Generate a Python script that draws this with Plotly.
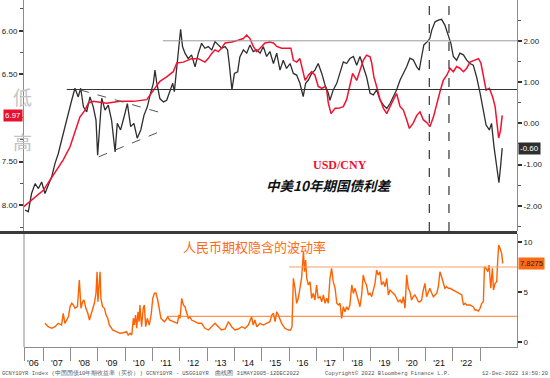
import plotly.graph_objects as go

# ---------------- data ----------------
# China-US 10Y yield spread (right axis, %)
spread_t = [2005.33, 2005.45, 2005.57, 2005.70, 2005.82, 2005.94,
            2006.06, 2006.18, 2006.31, 2006.43, 2006.55, 2006.67, 2006.79, 2006.92,
            2007.04, 2007.16, 2007.28, 2007.37, 2007.47, 2007.59, 2007.71, 2007.83, 2007.93, 2007.99,
            2008.05, 2008.14, 2008.26, 2008.38, 2008.50, 2008.63, 2008.71, 2008.83, 2008.96,
            2009.08, 2009.20, 2009.32, 2009.44, 2009.57, 2009.69, 2009.81, 2009.93,
            2010.03, 2010.09, 2010.15, 2010.27, 2010.40, 2010.52, 2010.64, 2010.74, 2010.80, 2010.89, 2010.95,
            2011.03, 2011.10,
            2011.19, 2011.31, 2011.43, 2011.56, 2011.68, 2011.80, 2011.92,
            2012.04, 2012.17, 2012.29, 2012.41, 2012.53, 2012.66, 2012.75, 2012.81, 2012.87, 2012.91,
            2013.00, 2013.12, 2013.20, 2013.33, 2013.45, 2013.57, 2013.69, 2013.82, 2013.94,
            2014.06, 2014.18, 2014.30, 2014.43, 2014.55, 2014.67, 2014.79, 2014.91,
            2015.04, 2015.16, 2015.28, 2015.40, 2015.52, 2015.61, 2015.71, 2015.83, 2015.95,
            2016.07, 2016.20, 2016.32, 2016.44, 2016.50, 2016.62, 2016.75, 2016.87, 2016.99,
            2017.11, 2017.23,
            2017.36, 2017.48, 2017.60, 2017.72, 2017.84, 2017.97,
            2018.09, 2018.21, 2018.33, 2018.46, 2018.58, 2018.70, 2018.82, 2018.94,
            2019.07, 2019.19, 2019.31, 2019.43, 2019.55, 2019.68, 2019.77, 2019.86, 2019.94,
            2020.07, 2020.16, 2020.23, 2020.35, 2020.47, 2020.59, 2020.71, 2020.84, 2020.93,
            2021.02, 2021.14, 2021.26, 2021.39, 2021.51, 2021.63, 2021.75, 2021.87,
            2022.00, 2022.12, 2022.22, 2022.34, 2022.42, 2022.51, 2022.61, 2022.69, 2022.75, 2022.81]
spread_v = [-2.10, -2.14, -1.70, -1.46, -1.58, -1.42,
            -1.70, -1.50, -1.29, -0.97, -0.73, -0.41, -0.08, 0.24,
            0.56, 0.85, 0.64, 0.85, 0.40, 0.28, 0.64, 0.40, 0.08, -0.77,
            -0.16, 0.61, 0.32, 0.44, 0.08, -0.69, 0.00, -0.16, 0.16,
            0.48, -0.08, 0.00, -0.36, -0.16, 0.20, 0.40, 0.73,
            0.97, 1.29, 1.01, 0.60, 0.52, 0.56, 0.77, 0.97, 0.77, 1.37, 1.86,
            2.28, 1.86,
            1.70, 1.57, 1.66, 1.37, 1.70, 1.94, 1.82,
            1.86, 1.78, 1.98, 1.90, 1.82, 1.86, 1.78, 1.45, 1.05, 0.81,
            1.21, 1.25, 1.61, 1.78, 1.70, 1.90, 1.74, 1.78, 1.70,
            1.86, 1.62, 1.74, 1.45, 1.70, 1.29, 1.53, 1.33,
            1.45, 1.21, 1.17, 0.97, 0.65, 0.97, 1.05, 1.21, 1.29,
            1.45, 1.21, 0.93, 0.73, 0.56, 0.81, 0.97, 1.21, 1.49,
            1.45, 1.57,
            1.62, 1.41, 1.62, 1.37, 1.13, 0.73,
            0.69, 0.81, 0.57, 0.44, 0.36, 0.48, 0.65, 0.81,
            1.05, 1.21, 1.37, 1.58, 1.54, 1.37, 1.29, 1.62, 1.90,
            1.98, 2.06, 2.26, 2.46, 2.50, 2.52, 2.38, 2.10, 1.94,
            1.62, 1.53, 1.70, 1.66, 1.53, 1.45, 1.41, 1.13,
            0.73, 0.32, -0.04, -0.16, 0.00, -0.57, -1.05, -1.44, -1.05, -0.60]

# USD/CNY (left axis, inverted)
usdcny_t = [2005.27, 2005.51, 2005.76, 2006.00, 2006.25, 2006.49, 2006.73, 2006.98,
            2007.22, 2007.34, 2007.53, 2007.65, 2007.83, 2008.32, 2008.81, 2009.30,
            2009.79, 2009.91, 2010.03, 2010.27, 2010.52, 2010.76, 2010.89, 2011.13,
            2011.43, 2011.68, 2011.92,
            2012.04, 2012.17, 2012.29, 2012.41, 2012.53, 2012.66, 2012.90,
            2013.14, 2013.33, 2013.45, 2013.57, 2013.69, 2013.82, 2013.94,
            2014.12, 2014.30, 2014.43, 2014.55, 2014.73, 2014.91,
            2015.07, 2015.16, 2015.28, 2015.40, 2015.46, 2015.59, 2015.71, 2015.83, 2015.95,
            2016.07, 2016.20, 2016.32, 2016.38, 2016.44, 2016.54, 2016.69, 2016.81, 2016.99,
            2017.11, 2017.23, 2017.33,
            2017.48, 2017.60, 2017.72, 2017.84, 2017.97,
            2018.03, 2018.11, 2018.21, 2018.33, 2018.46, 2018.58, 2018.70, 2018.82, 2018.94,
            2019.07, 2019.19, 2019.31, 2019.41, 2019.55, 2019.68, 2019.80, 2019.92,
            2020.07, 2020.16, 2020.29, 2020.41, 2020.53, 2020.65, 2020.78, 2020.90,
            2021.02, 2021.14, 2021.26, 2021.39, 2021.51, 2021.63, 2021.81, 2021.94,
            2022.03, 2022.12, 2022.22, 2022.34, 2022.46, 2022.55, 2022.61, 2022.68, 2022.75, 2022.81]
usdcny_v = [8.02, 7.96, 7.90, 7.83, 7.71, 7.60, 7.48, 7.33,
            7.10, 6.99, 6.91, 6.83, 6.81, 6.83, 6.81, 6.81,
            6.79, 6.74, 6.68, 6.58, 6.53, 6.47, 6.37, 6.36,
            6.32, 6.32, 6.36,
            6.32, 6.26, 6.22, 6.24, 6.20, 6.14, 6.13,
            6.11, 6.09, 6.05, 6.09, 6.18, 6.24, 6.20,
            6.14, 6.13, 6.14, 6.18, 6.20, 6.20,
            6.20, 6.34, 6.36, 6.32, 6.41, 6.57, 6.51, 6.47, 6.51,
            6.64, 6.66, 6.64, 6.68, 6.83, 6.95, 6.89, 6.89, 6.87,
            6.79, 6.64, 6.49,
            6.57, 6.45, 6.34, 6.28, 6.30,
            6.37, 6.53, 6.64, 6.78, 6.89, 6.95, 6.87, 6.80, 6.72,
            6.87, 6.91, 7.02, 7.12, 7.06, 6.97, 6.93, 7.02,
            7.06, 7.10, 6.99, 6.83, 6.70, 6.57, 6.51, 6.43,
            6.47, 6.41, 6.43, 6.47, 6.43, 6.36, 6.34, 6.32,
            6.37, 6.53, 6.68, 6.66, 6.76, 6.87, 7.02, 7.23, 7.14, 6.97]

# CNY option implied volatility (bottom panel)
vol_t = [2006.06, 2006.18, 2006.31, 2006.43, 2006.55, 2006.67, 2006.73, 2006.79, 2006.92, 2006.98,
         2007.04, 2007.10, 2007.16, 2007.25, 2007.32, 2007.38, 2007.44, 2007.49, 2007.56, 2007.63,
         2007.69, 2007.75, 2007.81, 2007.87, 2007.93, 2007.97,
         2008.00, 2008.04, 2008.08, 2008.11, 2008.17, 2008.24, 2008.30, 2008.36, 2008.42, 2008.54,
         2008.69, 2008.81, 2008.93,
         2009.05, 2009.11, 2009.18, 2009.24, 2009.30, 2009.33, 2009.38, 2009.42, 2009.47, 2009.51,
         2009.54, 2009.60, 2009.66, 2009.70, 2009.75, 2009.81, 2009.88, 2009.95,
         2010.01, 2010.07, 2010.13, 2010.19, 2010.25, 2010.31, 2010.37, 2010.43, 2010.49, 2010.56,
         2010.62, 2010.70, 2010.82, 2010.91, 2010.97,
         2011.01, 2011.07, 2011.13, 2011.19, 2011.25, 2011.31, 2011.37, 2011.43, 2011.56, 2011.68,
         2011.80, 2011.92,
         2012.05, 2012.17, 2012.29, 2012.41, 2012.53, 2012.66, 2012.78, 2012.90,
         2013.02, 2013.14, 2013.27, 2013.39, 2013.51, 2013.63, 2013.69, 2013.75, 2013.82, 2013.94,
         2014.06, 2014.18, 2014.30,
         2014.37, 2014.43, 2014.49, 2014.55, 2014.61, 2014.67, 2014.73, 2014.85, 2014.98,
         2015.06, 2015.11, 2015.16, 2015.22, 2015.28, 2015.34, 2015.40, 2015.46, 2015.53, 2015.57,
         2015.61, 2015.65, 2015.71, 2015.77, 2015.83, 2015.89, 2015.95,
         2016.01, 2016.07, 2016.14, 2016.20, 2016.26, 2016.32, 2016.38, 2016.44, 2016.50, 2016.56,
         2016.62, 2016.69, 2016.75, 2016.81, 2016.87, 2016.93, 2016.99,
         2017.05, 2017.11, 2017.17, 2017.23, 2017.30, 2017.36, 2017.42, 2017.48, 2017.54, 2017.60,
         2017.66, 2017.72, 2017.78, 2017.84, 2017.91, 2017.97,
         2018.03, 2018.09, 2018.15, 2018.21, 2018.27, 2018.33, 2018.39, 2018.46, 2018.52, 2018.58,
         2018.64, 2018.70, 2018.76, 2018.82, 2018.88, 2018.94,
         2019.00, 2019.07, 2019.13, 2019.19, 2019.25, 2019.31, 2019.37, 2019.43, 2019.49, 2019.55,
         2019.61, 2019.68, 2019.74, 2019.80, 2019.86, 2019.92, 2019.98,
         2020.04, 2020.10, 2020.16, 2020.23, 2020.29, 2020.35, 2020.41, 2020.47, 2020.53, 2020.59,
         2020.65, 2020.71, 2020.77, 2020.84, 2020.90,
         2021.02, 2021.14, 2021.26, 2021.33, 2021.39, 2021.45, 2021.51, 2021.63, 2021.75, 2021.81,
         2021.87, 2021.94,
         2022.00, 2022.06, 2022.12, 2022.16, 2022.22, 2022.28, 2022.33, 2022.39, 2022.45, 2022.49,
         2022.55, 2022.61, 2022.64, 2022.68, 2022.73, 2022.79, 2022.83]
vol_v = [1.84, 1.50, 1.34, 1.50, 1.84, 1.67, 2.84, 1.84, 2.50, 3.50,
         3.84, 3.67, 3.34, 3.50, 6.17, 3.34, 4.00, 4.17, 3.34, 2.84,
         2.17, 2.67, 3.17, 3.84, 4.84, 7.00,
         4.00, 5.17, 7.00, 4.34, 3.50, 3.34, 2.67, 2.34, 1.67, 1.17,
         0.94, 0.84, 0.90,
         1.00, 0.67, 0.84, 0.67, 2.34, 1.67, 2.67, 1.34, 3.00, 2.00,
         3.67, 1.50, 3.34, 3.67, 1.50, 2.34, 1.67, 2.67,
         4.34, 4.84, 4.84, 4.17, 3.34, 2.34, 2.17, 2.00, 2.17, 2.50,
         2.17, 2.07, 1.94, 1.84, 2.67,
         2.34, 4.34, 3.67, 3.50, 3.00, 2.34, 2.50, 2.17, 2.00, 1.84,
         1.84, 1.34,
         1.17, 1.50, 1.84, 1.50, 1.17, 1.27, 2.00, 1.50,
         1.17, 1.27, 1.50, 1.34, 1.67, 2.50, 1.67, 2.17, 1.50, 1.84,
         1.67, 1.84, 2.00,
         2.67, 2.84, 2.00, 3.00, 2.67, 2.17, 1.84, 1.34, 1.17,
         1.17, 1.50, 6.34, 5.34, 3.84, 4.34, 5.34, 6.34, 9.00, 7.00,
         8.17, 6.34, 5.67, 6.00, 4.34, 4.84, 4.17,
         5.67, 4.34, 4.50, 4.00, 4.67, 3.84, 4.34, 3.84, 6.34, 7.34,
         6.00, 5.34, 3.84, 3.67, 3.84, 2.34, 3.50,
         3.00, 3.50, 3.17, 3.67, 5.67, 4.84, 5.34, 4.67, 4.17, 3.50,
         4.67, 6.67, 6.00, 5.67, 4.67, 4.84,
         4.50, 5.17, 5.84, 7.17, 6.67, 7.00, 5.67, 6.00, 5.50, 6.34,
         4.67, 5.17, 5.00, 4.84, 4.67, 4.34,
         4.00, 4.17, 3.84, 4.50, 3.34, 6.67, 5.34, 5.00, 4.17, 4.50,
         4.67, 4.34, 4.00, 4.00, 4.17, 5.17, 5.84,
         4.50, 4.84, 5.34, 4.84, 4.50, 4.67, 4.84, 5.50, 7.00, 6.50,
         5.84, 5.34, 5.50, 5.34, 5.34,
         5.17, 5.00, 4.84, 4.67, 3.67, 3.84, 3.67, 3.67, 3.50, 3.17,
         3.17, 3.07,
         3.34, 3.84, 4.00, 7.50, 7.34, 7.00, 7.67, 5.34, 7.34, 5.17,
         5.84, 6.00, 7.84, 9.67, 9.34, 8.84, 7.83]

# axis labels / ticks
year_labels = ["'06", "'07", "'08", "'09", "'10", "'11", "'12", "'13", "'14",
               "'15", "'16", "'17", "'18", "'19", "'20", "'21", "'22"]
year_label_pos = [2005.62, 2006.5, 2007.5, 2008.5, 2009.5, 2010.5, 2011.5, 2012.5, 2013.5,
                  2014.5, 2015.5, 2016.5, 2017.5, 2018.5, 2019.5, 2020.5, 2021.5]
year_bounds = [2005.30, 2006, 2007, 2008, 2009, 2010, 2011, 2012, 2013, 2014, 2015,
               2016, 2017, 2018, 2019, 2020, 2021, 2022]
cny_ticks = [6.00, 6.50, 7.50, 8.00]
cny_minor = [5.75, 6.25, 6.75, 7.00, 7.25, 7.75, 8.25]
spread_ticks = [-2.0, -1.0, 0.0, 1.0, 2.0]
spread_minor = [-2.5, -1.5, -0.5, 0.5, 1.5, 2.5]
vol_ticks = [0, 5, 10]

# reference levels / guide lines
spread_levels = [2.00, 0.82]
spread_level_start = [2010.38, 2006.86]
vol_levels = [7.47, 2.54]
vol_level_start = [2015.0, 2010.53]
event_lines = [2020.14, 2020.86]
tri_upper_t = [2007.35, 2010.40]
tri_upper_v = [0.81, 0.24]
tri_lower_t = [2008.03, 2010.27]
tri_lower_v = [-0.81, -0.20]

last_cny = 6.97
last_spread = -0.60
last_vol = 7.8275

# ---------------- figure ----------------
XR = [2005.293, 2023.352]
TICKFONT = dict(family="Liberation Sans, Arial, sans-serif", size=8, color="#222222")
AXCOL = "#8c8c8c"

fig = go.Figure()
fig.add_trace(go.Scatter(x=spread_t, y=spread_v, mode="lines", xaxis="x", yaxis="y",
                         line=dict(color="#2e2e2e", width=1.3), hoverinfo="skip"))
fig.add_trace(go.Scatter(x=usdcny_t, y=usdcny_v, mode="lines", xaxis="x", yaxis="y2",
                         line=dict(color="#f5102f", width=1.5), hoverinfo="skip"))
fig.add_trace(go.Scatter(x=vol_t, y=vol_v, mode="lines", xaxis="x2", yaxis="y3",
                         line=dict(color="#ff6200", width=1.4), hoverinfo="skip"))

fig.update_layout(
    width=550, height=378, margin=dict(l=24, r=33, t=0, b=31, autoexpand=False),
    paper_bgcolor="white", plot_bgcolor="white", showlegend=False,
    xaxis=dict(domain=[0, 1], anchor="y", range=XR, showticklabels=False, showgrid=False,
               zeroline=False, showline=False, ticks="", automargin=False),
    yaxis=dict(domain=[0.334, 1], anchor="x", side="right", range=[-2.611, 2.989],
               tickvals=spread_ticks, ticktext=["%.2f" % v for v in spread_ticks],
               ticks="outside", ticklen=4, tickwidth=1.5, tickcolor="#333333",
               showline=True, linecolor=AXCOL, linewidth=1, showgrid=False, zeroline=False,
               tickfont=TICKFONT, automargin=False,
               minor=dict(tickmode="array", tickvals=spread_minor, ticks="outside",
                          ticklen=3, tickcolor="#555555", tickwidth=1)),
    yaxis2=dict(overlaying="y", anchor="x", side="left", range=[8.297, 5.648],
                tickvals=cny_ticks, ticktext=["%.2f" % v for v in cny_ticks],
                ticks="outside", ticklen=4, tickwidth=1.5, tickcolor="#333333",
                showline=True, linecolor=AXCOL, linewidth=1, showgrid=False, zeroline=False,
                tickfont=TICKFONT, automargin=False,
                minor=dict(tickmode="array", tickvals=cny_minor, ticks="outside",
                           ticklen=3, tickcolor="#555555", tickwidth=1)),
    xaxis2=dict(domain=[0, 1], anchor="y3", range=XR, tickvals=year_label_pos,
                ticktext=year_labels, ticks="outside", ticklen=7,
                tickcolor="rgba(0,0,0,0)", showline=True, linecolor=AXCOL, linewidth=1,
                showgrid=False, zeroline=False, automargin=False,
                tickfont=dict(family="Liberation Sans, Arial, sans-serif", size=9, color="#111111"),
                minor=dict(tickmode="array", tickvals=year_bounds, ticks="outside",
                           ticklen=13, tickcolor=AXCOL, tickwidth=1)),
    yaxis3=dict(domain=[0, 0.3256], anchor="x2", side="right", range=[-0.53, 10.77],
                tickvals=vol_ticks, ticktext=[str(v) for v in vol_ticks],
                ticks="outside", ticklen=4, tickwidth=1.5, tickcolor="#333333",
                showline=True, linecolor=AXCOL, linewidth=1, showgrid=False, zeroline=False,
                tickfont=TICKFONT, automargin=False),
)

shapes = []
# separator between panels
shapes.append(dict(type="line", xref="paper", yref="paper", x0=-0.0487, x1=1, y0=0.3300, y1=0.3300,
                   line=dict(color="#3a3a3a", width=3)))
# left border of bottom panel
shapes.append(dict(type="line", xref="paper", yref="paper", x0=0, x1=0, y0=0, y1=0.3256,
                   line=dict(color=AXCOL, width=1)))
# horizontal reference levels (top)
shapes.append(dict(type="line", xref="x", yref="y", x0=spread_level_start[0], x1=XR[1],
                   y0=spread_levels[0], y1=spread_levels[0], line=dict(color="#9a9a9a", width=1)))
shapes.append(dict(type="line", xref="x", yref="y", x0=spread_level_start[1], x1=XR[1],
                   y0=spread_levels[1], y1=spread_levels[1], line=dict(color="#333333", width=1)))
# triangle dashed lines
shapes.append(dict(type="line", xref="x", yref="y", x0=tri_upper_t[0], x1=tri_upper_t[1],
                   y0=tri_upper_v[0], y1=tri_upper_v[1], line=dict(color="#555555", width=1, dash="dash")))
shapes.append(dict(type="line", xref="x", yref="y", x0=tri_lower_t[0], x1=tri_lower_t[1],
                   y0=tri_lower_v[0], y1=tri_lower_v[1], line=dict(color="#555555", width=1, dash="dash")))
# vertical dashed event lines
for t in event_lines:
    shapes.append(dict(type="line", xref="x", yref="paper", x0=t, x1=t, y0=0.334, y1=1,
                       line=dict(color="#333333", width=1.2, dash="dash")))
# bottom panel levels
shapes.append(dict(type="line", xref="x2", yref="y3", x0=vol_level_start[0], x1=XR[1],
                   y0=vol_levels[0], y1=vol_levels[0], line=dict(color="#f7a06a", width=1.2)))
shapes.append(dict(type="line", xref="x2", yref="y3", x0=vol_level_start[1], x1=XR[1],
                   y0=vol_levels[1], y1=vol_levels[1], line=dict(color="#ff7a30", width=1)))
fig.update_layout(shapes=shapes)

TAGFONT = "Liberation Sans, Arial"
ann = []
# left margin decoration (drawn first so the value tag sits above)
ann.append(dict(x=-0.0264, y=0.768, xref="paper", yref="paper", text="低", showarrow=False,
                font=dict(family="Noto Sans CJK SC", size=19, color="#c4c4c4")))
ann.append(dict(x=-0.0264, y=0.592, xref="paper", yref="paper", text="高", showarrow=False,
                font=dict(family="Noto Sans CJK SC", size=19, color="#c4c4c4")))
# last-value tags
ann.append(dict(x=0, xref="paper", y=last_cny, yref="y2", xanchor="right", yanchor="middle",
                text="%.2f" % last_cny, showarrow=False, bgcolor="#e8102e", borderpad=1,
                xshift=-1, font=dict(family=TAGFONT, size=8, color="white")))
ann.append(dict(x=1, xref="paper", y=last_spread, yref="y", xanchor="left", yanchor="middle",
                text="%.2f" % last_spread, showarrow=False, bgcolor="#2e2e2e", borderpad=1,
                xshift=1, font=dict(family=TAGFONT, size=8, color="white")))
ann.append(dict(x=1, xref="paper", y=last_vol, yref="y3", xanchor="left", yanchor="middle",
                text=str(last_vol), showarrow=False, bgcolor="#ff6a13", borderpad=1,
                xshift=1, font=dict(family=TAGFONT, size=7.5, color="#222222")))
# series captions
ann.append(dict(x=0.700, y=0.5245, xref="paper", yref="paper", text="<b>USD/CNY</b>",
                showarrow=False, font=dict(family="Liberation Serif, Times New Roman", size=12, color="#f5102f")))
ann.append(dict(x=0.617, y=0.4669, xref="paper", yref="paper", text="<b><i>中美10年期国债利差</i></b>",
                showarrow=False, font=dict(family="Noto Sans CJK SC", size=13.5, color="#111111")))
ann.append(dict(x=0.318, y=0.2565, xref="paper", yref="paper", text="人民币期权隐含的波动率",
                showarrow=False, font=dict(family="Noto Sans CJK SC", size=13, color="#ff6a13")))
# footer
FOOT = dict(family="Liberation Mono, DejaVu Sans Mono", size=5.5, color="#555555")
ann.append(dict(x=-0.0487, y=-0.075, xref="paper", yref="paper", xanchor="left", yanchor="middle",
                text="GCNY10YR Index (中国国债10年期收益率（买价）) GCNY10YR - USGG10YR  曲线图 31MAY2005-12DEC2022",
                showarrow=False, font=FOOT))
ann.append(dict(x=0.6065, y=-0.075, xref="paper", yref="paper", xanchor="left", yanchor="middle",
                text="Copyright© 2022 Bloomberg Finance L.P.", showarrow=False, font=FOOT))
ann.append(dict(x=1.067, y=-0.075, xref="paper", yref="paper", xanchor="right", yanchor="middle",
                text="12-Dec-2022 18:50:20", showarrow=False, font=FOOT))
fig.update_layout(annotations=ann)

fig.write_html("out.html", config={"displayModeBar": False},
               post_script="document.body.style.margin='0';document.body.style.padding='0';"
                           "document.documentElement.style.overflow='hidden';")
